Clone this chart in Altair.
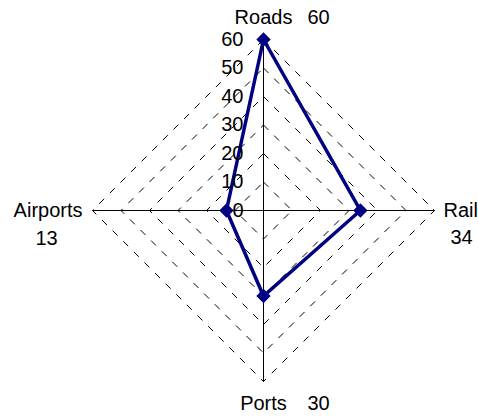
import math
import altair as alt
import pandas as pd

# Radar chart: transport mode scores
categories = ["Roads", "Rail", "Ports", "Airports"]
values = [60, 34, 30, 13]
tick_levels = [0, 10, 20, 30, 40, 50, 60]
r_max = 60

# angle of each spoke, clockwise from the top
angles = [0, 90, 180, 270]

# layout: pixel geometry of the figure
W, H = 478, 418
cx, cy = 263.5, 210.5
px_per_unit = 171 / r_max
x_dom = [-cx / px_per_unit, (W - cx) / px_per_unit]
y_dom = [-(H - cy) / px_per_unit, cy / px_per_unit]

FONT = "Liberation Sans"
FS = 20
NAVY = "#000080"


def polar(r, deg):
    a = math.radians(deg)
    return r * math.sin(a), r * math.cos(a)


xs = alt.Scale(domain=x_dom, nice=False, zero=False)
ys = alt.Scale(domain=y_dom, nice=False, zero=False)
X = lambda f="x": alt.X(f"{f}:Q", scale=xs, axis=None)
Y = lambda f="y": alt.Y(f"{f}:Q", scale=ys, axis=None)

# dashed grid diamonds, one closed ring per level above zero
grid_rows = []
for lvl in tick_levels[1:]:
    for i, deg in enumerate(angles + [angles[0]]):
        x, y = polar(lvl, deg)
        grid_rows.append({"level": lvl, "order": i, "x": x, "y": y})
grid = alt.Chart(pd.DataFrame(grid_rows)).mark_line(
    color="black", strokeWidth=1, strokeDash=[7, 8]
).encode(x=X(), y=Y(), detail="level:N", order="order:Q")

# solid spokes from the centre
spoke_rows = []
for deg in angles:
    x, y = polar(r_max, deg)
    spoke_rows.append({"x": 0, "y": 0, "x2": x, "y2": y})
spokes = alt.Chart(pd.DataFrame(spoke_rows)).mark_rule(
    color="black", strokeWidth=1
).encode(x=X(), y=Y(), x2="x2:Q", y2="y2:Q")

# data polygon
data_rows = []
for i, (c, v, deg) in enumerate(zip(categories, values, angles)):
    x, y = polar(v, deg)
    data_rows.append({"cat": c, "value": v, "order": i, "x": x, "y": y})
poly_df = pd.DataFrame(data_rows + [dict(data_rows[0], order=len(data_rows))])
line = alt.Chart(poly_df).mark_line(
    color=NAVY, strokeWidth=3.5, strokeJoin="miter"
).encode(x=X(), y=Y(), order="order:Q")
points = alt.Chart(pd.DataFrame(data_rows)).mark_point(
    shape="diamond", filled=True, color=NAVY, size=150, opacity=1,
    stroke=NAVY, strokeWidth=1.5
).encode(x=X(), y=Y())

# radial tick labels along the top spoke
tick_df = pd.DataFrame({"t": tick_levels, "x": [0] * len(tick_levels), "y": tick_levels})
ticks = alt.Chart(tick_df).mark_text(
    font=FONT, fontSize=FS, align="right", baseline="middle", dx=-20, color="black"
).encode(x=X(), y=Y(), text="t:Q")

# category names and value labels at the spoke ends
name_offsets = {
    "Roads": dict(align="center", dx=0, dy=-22),
    "Rail": dict(align="left", dx=9, dy=0),
    "Ports": dict(align="center", dx=0, dy=22),
    "Airports": dict(align="right", dx=-10, dy=0),
}
value_offsets = {
    "Roads": dict(align="left", dx=44, dy=-22),
    "Rail": dict(align="center", dx=27, dy=27),
    "Ports": dict(align="left", dx=44, dy=22),
    "Airports": dict(align="center", dx=-46, dy=28),
}
label_layers = []
for c, v, deg in zip(categories, values, angles):
    x, y = polar(r_max, deg)
    df = pd.DataFrame({"name": [c], "val": [str(v)], "x": [x], "y": [y]})
    label_layers.append(
        alt.Chart(df).mark_text(font=FONT, fontSize=FS, baseline="middle",
                                color="black", **name_offsets[c])
        .encode(x=X(), y=Y(), text="name:N")
    )
    label_layers.append(
        alt.Chart(df).mark_text(font=FONT, fontSize=FS, baseline="middle",
                                color="black", **value_offsets[c])
        .encode(x=X(), y=Y(), text="val:N")
    )

chart = alt.layer(grid, spokes, line, points, ticks, *label_layers).properties(
    width=W, height=H, padding=0, autosize=alt.AutoSizeParams(type="none"),
    background="white"
).configure_view(stroke=None)

chart.save("out.html", embed_options={"renderer": "svg", "actions": False})
